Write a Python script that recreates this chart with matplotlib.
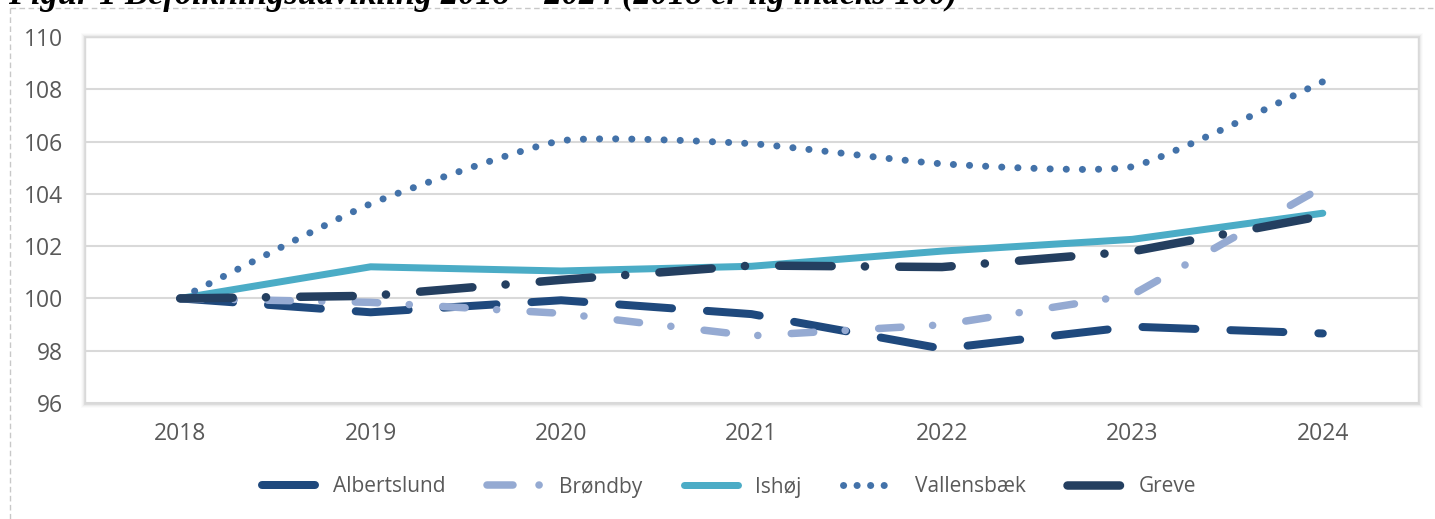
import numpy as np
import matplotlib
matplotlib.use("Agg")
import matplotlib.pyplot as plt
from matplotlib.lines import Line2D
from matplotlib.patches import PathPatch, Rectangle
from matplotlib.path import Path

# ---------------- data ----------------
years = ["2018", "2019", "2020", "2021", "2022", "2023", "2024"]
albertslund = [100.0, 99.47, 99.93, 99.40, 98.08, 98.92, 98.66]
brondby = [100.0, 99.85, 99.43, 98.57, 98.99, 100.14, 104.26]
ishoj = [100.0, 101.21, 101.05, 101.23, 101.81, 102.26, 103.26]
vallensbaek = [100.0, 103.62, 106.03, 105.92, 105.15, 105.04, 108.29]
greve = [100.0, 100.10, 100.71, 101.26, 101.20, 101.80, 103.16]
series_names = ["Albertslund", "Brøndby", "Ishøj", "Vallensbæk", "Greve"]
yticks = [96, 98, 100, 102, 104, 106, 108, 110]
title = "Figur 1 Befolkningsudvikling 2018 – 2024 (2018 er lig indeks 100)"

# ---------------- style ----------------
plt.rcParams["lines.scale_dashes"] = False
plt.rcParams["font.family"] = ["Open Sans", "DejaVu Sans"]
TXT = "#595959"
FS_TICK = 16.5
FS_LEG = 15

W, H = 1435, 519
fig = plt.figure(figsize=(W / 100, H / 100), dpi=100)
fig.patch.set_facecolor("white")

L, R, T, B = 85, 1418, 37, 403
ax = fig.add_axes([L / W, (H - B) / H, (R - L) / W, (B - T) / H])

# soft shadow around plot area
for k, a in [(4, 0.015), (3, 0.025), (2, 0.035), (1, 0.05)]:
    fig.add_artist(Rectangle(((L - k) / W, (H - B - k - 1) / H), (R - L + 2 * k + 1) / W,
                             (B - T + 2 * k + 1) / H, transform=fig.transFigure,
                             facecolor="black", edgecolor="none", alpha=a, zorder=-2))

x = np.arange(len(years))
C_ALB = "#1F497D"
C_BRO = "#95AAD2"
C_ISH = "#4BACC6"
C_VAL = "#4372A9"
C_GRE = "#243F60"

px = 0.72  # points per pixel

sty_alb = dict(color=C_ALB, lw=8 * px, dashes=(53 * px, 35 * px),
               dash_capstyle="round", dash_joinstyle="round")
sty_bro = dict(color=C_BRO, lw=7.5 * px, dashes=(22.5 * px, 31.5 * px, 0.1, 33.4 * px),
               dash_capstyle="round", dash_joinstyle="round")
sty_ish = dict(color=C_ISH, lw=7 * px, solid_capstyle="round", solid_joinstyle="round")
sty_gre = dict(color=C_GRE, lw=8.5 * px, dashes=(52.5 * px, 33.2 * px, 0.1, 34.2 * px),
               dash_capstyle="round", dash_joinstyle="round")
val_lw = 7 * px
val_dash = (0, (0.1, 16 * px))

ax.plot(x, albertslund, **sty_alb, zorder=3)
ax.plot(x, brondby, **sty_bro, zorder=4)
ax.plot(x, ishoj, **sty_ish, zorder=5)


def smooth_path(xs, ys, f=1 / 12):
    P = np.column_stack([xs, ys]).astype(float)
    n = len(P)
    verts = [P[0]]
    codes = [Path.MOVETO]
    for i in range(n - 1):
        p_prev = P[i - 1] if i > 0 else P[i]
        p_next2 = P[i + 2] if i + 2 < n else P[i + 1]
        c1 = P[i] + (P[i + 1] - p_prev) * f
        c2 = P[i + 1] - (p_next2 - P[i]) * f
        verts += [c1, c2, P[i + 1]]
        codes += [Path.CURVE4] * 3
    return Path(np.array(verts), codes)


val_patch = PathPatch(smooth_path(x, vallensbaek), fill=False, edgecolor=C_VAL, lw=val_lw,
                      linestyle=val_dash, capstyle="round", joinstyle="round", zorder=6)
ax.add_patch(val_patch)
ax.plot(x, greve, **sty_gre, zorder=7)

ax.set_xlim(-0.5, len(years) - 0.5)
ax.set_ylim(96, 110)
ax.set_yticks(yticks)
ax.set_xticks(x)
ax.set_xticklabels(years)
ax.tick_params(axis="both", length=0, labelsize=FS_TICK, labelcolor=TXT)
ax.tick_params(axis="y", pad=16)
ax.tick_params(axis="x", pad=14)
ax.yaxis.grid(True, color="#D9D9D9", lw=1.5)
ax.set_axisbelow(True)
for s in ax.spines.values():
    s.set_color("#D9D9D9")
    s.set_linewidth(1.0)

# legend (handles mimic the line styles)
handles = [
    Line2D([], [], **sty_alb),
    Line2D([], [], color=C_BRO, lw=7.5 * px, dashes=(26 * px, 26 * px, 0.1, 40 * px),
           dash_capstyle="round"),
    Line2D([], [], **sty_ish),
    Line2D([], [], color=C_VAL, lw=val_lw, linestyle=(0, (0.1, 13.4 * px)),
           dash_capstyle="round"),
    Line2D([], [], **sty_gre),
]
fig.legend(handles, series_names, loc="center", bbox_to_anchor=(729 / W, 1 - 487 / H),
           ncol=5, frameon=False, fontsize=FS_LEG, labelcolor=TXT, handlelength=2.6,
           handletextpad=0.85, columnspacing=1.98)

# outer dashed frame (partial, as cropped)
fig.add_artist(Line2D([10 / W, 1.0], [1 - 8 / H, 1 - 8 / H], transform=fig.transFigure,
                      color="#C8C8C8", lw=1.0, dashes=(4, 2.5)))
fig.add_artist(Line2D([10 / W, 10 / W], [0, 1 - 8 / H], transform=fig.transFigure,
                      color="#C8C8C8", lw=1.0, dashes=(4, 2.5)))

# cropped title at top
ttl = fig.text(8 / W, 1 - 4.5 / H, title, ha="left", va="baseline", fontsize=20,
               fontweight="bold", style="italic", color="black",
               family=["Liberation Serif", "DejaVu Serif"])
fig.canvas.draw()
wpx = ttl.get_window_extent().width
ttl.set_fontsize(20 * 949 / wpx)

fig.savefig("out.png", dpi=100)
